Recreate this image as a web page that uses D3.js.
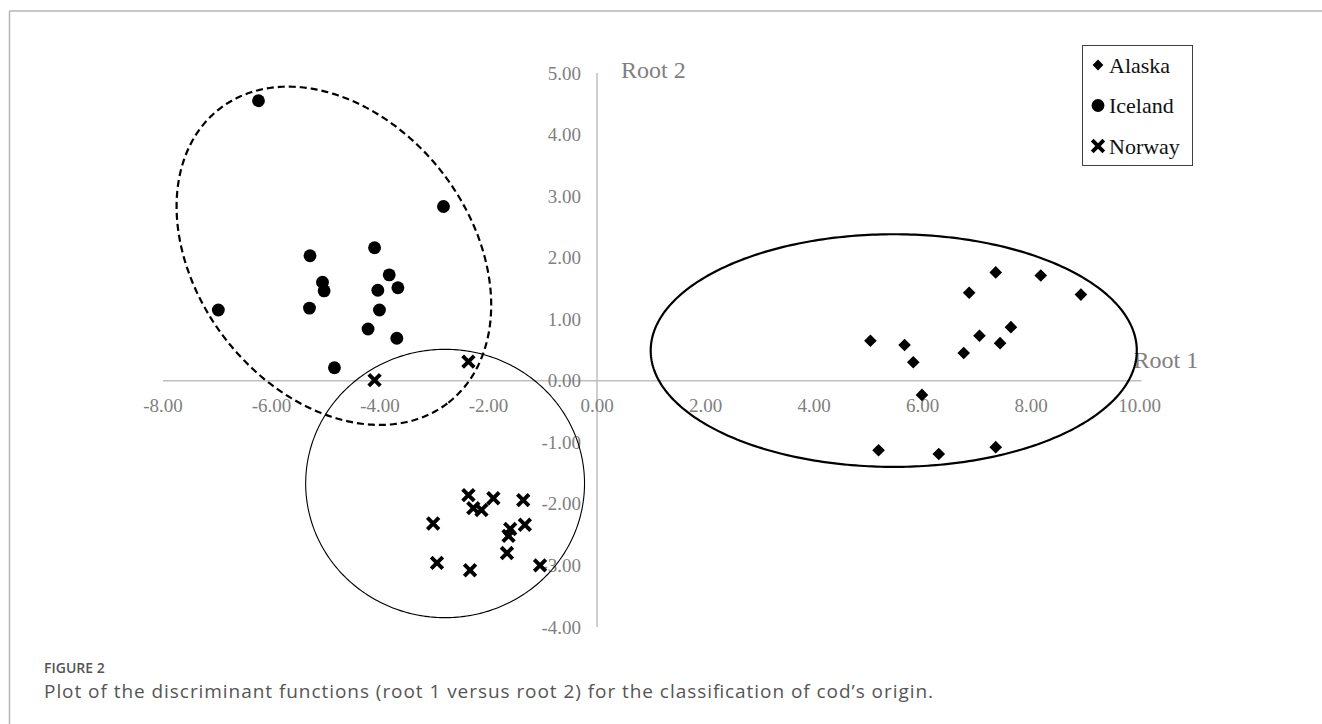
<!DOCTYPE html>
<html>
<head>
<meta charset="utf-8">
<script src="https://cdn.jsdelivr.net/npm/d3@7"></script>
<style>
  html, body { margin: 0; padding: 0; background: #fff; }
  svg { display: block; }
</style>
</head>
<body>
<svg id="chart" width="1322" height="724"></svg>
<script>
// ---------------- DATA ----------------
const groups = ["Alaska", "Iceland", "Norway"];

const alaskaRoot1 = [7.35, 8.18, 6.86, 8.92, 7.63, 7.05, 5.04, 5.67, 7.43, 6.76, 5.83, 5.99, 5.19, 6.30, 7.35];
const alaskaRoot2 = [1.76, 1.71, 1.43, 1.40, 0.87, 0.73, 0.65, 0.58, 0.61, 0.45, 0.30, -0.23, -1.13, -1.19, -1.08];

const icelandRoot1 = [-6.24, -2.83, -5.29, -4.10, -3.83, -5.06, -5.03, -4.04, -3.67, -6.98, -5.30, -4.01, -4.22, -3.69, -4.84];
const icelandRoot2 = [4.55, 2.83, 2.03, 2.16, 1.72, 1.60, 1.46, 1.47, 1.51, 1.15, 1.18, 1.15, 0.84, 0.69, 0.21];

const norwayRoot1 = [-4.10, -2.37, -2.37, -2.28, -2.13, -1.91, -1.36, -3.02, -1.33, -1.60, -1.63, -1.66, -2.95, -1.05, -2.34];
const norwayRoot2 = [0.01, 0.31, -1.86, -2.07, -2.10, -1.91, -1.94, -2.32, -2.34, -2.41, -2.52, -2.80, -2.96, -3.00, -3.08];

// group ellipses in data units: centre and two conjugate semi-axis vectors
const ellipseGroups = ["Alaska", "Iceland", "Norway"];
const ellipseCentre = [[5.47, 0.49], [-4.85, 2.03], [-2.80, -1.67]];
const ellipseAxisA  = [[4.48, 0], [2.09, -2.40], [2.57, 0]];
const ellipseAxisB  = [[0, 1.89], [-2.01, -1.339], [0, 2.18]];

const xTickValues = [-8, -6, -4, -2, 0, 2, 4, 6, 8, 10];
const yTickValues = [-4, -3, -2, -1, 0, 1, 2, 3, 4, 5];

const xTitle = "Root 1";
const yTitle = "Root 2";
const figLabel = "FIGURE 2";
const figCaption = "Plot of the discriminant functions (root 1 versus root 2) for the classification of cod\u2019s origin.";

// ---------------- DRAW ----------------
const svg = d3.select("#chart");
const serif = "'Liberation Serif', 'Times New Roman', serif";
const axisGrey = "#bfbfbf";
const textGrey = "#808080";

// page frame
svg.append("line").attr("x1", 9.5).attr("x2", 1322).attr("y1", 11).attr("y2", 11)
  .attr("stroke", "#b4b4b4").attr("stroke-width", 1.5);
svg.append("line").attr("x1", 9.5).attr("x2", 9.5).attr("y1", 11).attr("y2", 724)
  .attr("stroke", "#b4b4b4").attr("stroke-width", 1.5);

const x = d3.scaleLinear().domain([-8, 10]).range([163, 1139.5]);
const y = d3.scaleLinear().domain([-4, 5]).range([626.9, 73]);
const fmt = v => d3.format(".2f")(v).replace("\u2212", "-");

// axes lines
svg.append("line").attr("x1", x(-8)).attr("x2", x(10) + 2).attr("y1", y(0)).attr("y2", y(0))
  .attr("stroke", axisGrey).attr("stroke-width", 1.5);
svg.append("line").attr("x1", x(0)).attr("x2", x(0)).attr("y1", y(5)).attr("y2", y(-4))
  .attr("stroke", axisGrey).attr("stroke-width", 1.5);

// tick labels
svg.append("g").selectAll("text").data(xTickValues).join("text")
  .attr("x", d => x(d)).attr("y", y(0) + 25).attr("dy", "0.35em")
  .attr("text-anchor", "middle")
  .attr("font-family", serif).attr("font-size", 19).attr("fill", textGrey)
  .text(d => fmt(d));
svg.append("g").selectAll("text").data(yTickValues).join("text")
  .attr("x", x(0) - 16).attr("y", d => y(d)).attr("dy", "0.35em")
  .attr("text-anchor", "end")
  .attr("font-family", serif).attr("font-size", 19).attr("fill", textGrey)
  .text(d => fmt(d));

// axis titles
svg.append("text").attr("x", x(0) + 24).attr("y", y(5) - 3).attr("dy", "0.35em")
  .attr("font-family", serif).attr("font-size", 24).attr("fill", textGrey).text(yTitle);
svg.append("text").attr("x", x(10) - 6).attr("y", y(0) - 21).attr("dy", "0.35em")
  .attr("font-family", serif).attr("font-size", 24).attr("fill", textGrey).text(xTitle);

// ellipses
const ellipseStyle = {
  Alaska:  { w: 2.2, dash: null },
  Iceland: { w: 2.2, dash: "7,4" },
  Norway:  { w: 1.1, dash: null }
};
const line = d3.line().curve(d3.curveLinearClosed);
ellipseGroups.forEach((g, i) => {
  const c = ellipseCentre[i], a = ellipseAxisA[i], b = ellipseAxisB[i];
  const pts = d3.range(0, 360, 1).map(deg => {
    const t = deg * Math.PI / 180;
    const vx = c[0] + a[0] * Math.cos(t) + b[0] * Math.sin(t);
    const vy = c[1] + a[1] * Math.cos(t) + b[1] * Math.sin(t);
    return [x(vx), y(vy)];
  });
  const st = ellipseStyle[g];
  svg.append("path").attr("d", line(pts))
    .attr("fill", "none").attr("stroke", "#000").attr("stroke-width", st.w)
    .attr("stroke-dasharray", st.dash);
});

// marker generators
const diamondPath = d3.symbol().type(d3.symbolSquare).size(80)();
const circlePath = d3.symbol().type(d3.symbolCircle).size(130)();
function drawMarker(sel, group, scale) {
  const s = scale || 1;
  if (group === "Alaska") {
    sel.append("path").attr("d", diamondPath)
      .attr("transform", `rotate(45) scale(${s})`).attr("fill", "#000");
  } else if (group === "Iceland") {
    sel.append("path").attr("d", circlePath).attr("transform", `scale(${s})`).attr("fill", "#000");
  } else {
    const h = 5.8 * s;
    sel.append("path").attr("d", `M${-h},${-h}L${h},${h}M${-h},${h}L${h},${-h}`)
      .attr("stroke", "#000").attr("stroke-width", 3.9).attr("fill", "none");
  }
}

const seriesX = { Alaska: alaskaRoot1, Iceland: icelandRoot1, Norway: norwayRoot1 };
const seriesY = { Alaska: alaskaRoot2, Iceland: icelandRoot2, Norway: norwayRoot2 };
groups.forEach(g => {
  const pts = seriesX[g].map((v, i) => [v, seriesY[g][i]]);
  svg.append("g").selectAll("g").data(pts).join("g")
    .attr("transform", d => `translate(${x(d[0])},${y(d[1])})`)
    .each(function () { drawMarker(d3.select(this), g); });
});

// legend
const lg = svg.append("g");
lg.append("rect").attr("x", 1082.5).attr("y", 45.5).attr("width", 110).attr("height", 120)
  .attr("fill", "#fff").attr("stroke", "#404040").attr("stroke-width", 1);
const legendY = d3.scalePoint().domain(groups).range([65, 146]);
groups.forEach(g => {
  const row = lg.append("g").attr("transform", `translate(1098,${legendY(g)})`);
  drawMarker(row, g, g === "Alaska" ? 0.85 : 1.0);
  row.append("text").attr("x", 11).attr("y", 0).attr("dy", "0.35em")
    .attr("font-family", serif).attr("font-size", 22).attr("fill", "#111").text(g);
});

// caption
svg.append("text").attr("x", 44).attr("y", 668).attr("dy", "0.35em")
  .attr("font-family", "'Open Sans', sans-serif").attr("font-size", 14).attr("font-weight", 600)
  .attr("fill", "#555").text(figLabel);
svg.append("text").attr("x", 44).attr("y", 691).attr("dy", "0.35em")
  .attr("font-family", "'Open Sans', sans-serif").attr("font-size", 19)
  .attr("textLength", 889).attr("lengthAdjust", "spacing")
  .attr("fill", "#555").text(figCaption);
</script>
</body>
</html>
